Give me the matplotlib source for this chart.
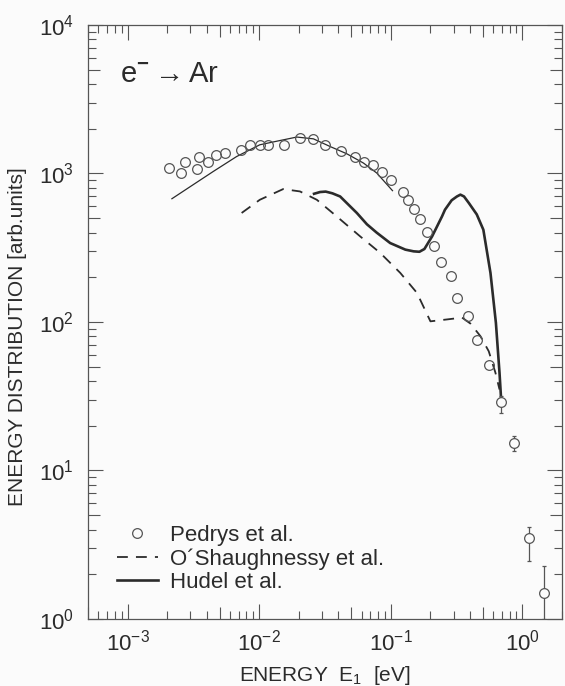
import matplotlib
matplotlib.use("Agg")
import matplotlib.pyplot as plt
from matplotlib.ticker import LogLocator, NullFormatter

plt.rcParams["font.family"] = ["Liberation Sans", "DejaVu Sans"]
plt.rcParams["mathtext.fontset"] = "custom"
plt.rcParams["mathtext.rm"] = "Liberation Sans"
plt.rcParams["mathtext.it"] = "Liberation Sans:italic"
plt.rcParams["mathtext.bf"] = "Liberation Sans:bold"

INK = "#2b2b2b"
GREY = "#555555"

# Pedrys et al. (open circles)
pedrys_e = [2.07e-3, 2.55e-3, 2.71e-3, 3.36e-3, 3.49e-3, 4.09e-3, 4.73e-3,
            5.47e-3, 7.31e-3, 8.51e-3, 1.01e-2, 1.17e-2, 1.55e-2, 2.03e-2,
            2.56e-2, 3.15e-2, 4.21e-2, 5.35e-2, 6.27e-2, 7.34e-2, 8.60e-2,
            0.1007, 0.124, 0.136, 0.149, 0.167, 0.187, 0.212, 0.239, 0.286,
            0.318, 0.385, 0.454, 0.557]
pedrys_n = [1087, 1007, 1194, 1071, 1301, 1194, 1336, 1372, 1443, 1552,
            1552, 1560, 1560, 1720, 1704, 1561, 1406, 1301, 1186, 1139,
            1016, 897, 745, 658, 579, 496, 404, 323, 254, 205, 145, 109,
            75.3, 51.3]

# high-energy points with error bars
err_e = [0.693, 0.859, 1.127, 1.47]
err_n = [29.0, 15.2, 3.51, 1.49]
err_lo = [24.5, 13.5, 2.44, 1.0]
err_hi = [31.6, 17.0, 4.16, 2.28]

# thin curve through the Pedrys data
fit_e = [2.17e-3, 3.14e-3, 4.47e-3, 6.73e-3, 1.01e-2, 1.44e-2, 1.93e-2,
         2.58e-2, 3.45e-2, 4.63e-2, 6.20e-2, 7.83e-2, 0.103]
fit_n = [676, 839, 1031, 1300, 1560, 1667, 1759, 1711, 1520, 1357, 1175,
         1006, 766]

# O'Shaughnessy et al. (dashed)
osh_e = [7.35e-3, 1.01e-2, 1.52e-2, 2.04e-2, 2.74e-2, 3.88e-2, 5.85e-2,
         8.30e-2, 0.118, 0.158, 0.200, 0.267, 0.348, 0.403, 0.480, 0.555,
         0.624, 0.670]
osh_n = [542, 665, 785, 757, 665, 514, 377, 292, 214, 157, 101, 104, 107,
         97.5, 80.2, 63.5, 45.5, 35.1]

# Hudel et al. (thick solid)
hud_e = [0.0261, 0.0290, 0.0320, 0.0360, 0.0412, 0.0463, 0.0552, 0.0658,
         0.0780, 0.0989, 0.129, 0.149, 0.165, 0.180, 0.206, 0.245, 0.258,
         0.290, 0.318, 0.338, 0.360, 0.392, 0.450, 0.505, 0.572, 0.629,
         0.670, 0.693]
hud_n = [730, 750, 755, 735, 700, 632, 542, 455, 400, 340, 307, 299, 297,
         310, 377, 514, 570, 660, 700, 720, 700, 632, 530, 418, 214, 98.6,
         45.5, 27.8]

fig = plt.figure(figsize=(5.65, 6.86), dpi=100, facecolor="#fbfbfb")
rect = [0.1558, 0.0977, 0.8389, 0.8659]
ax = fig.add_axes(rect)
ax.set_facecolor("#fbfbfb")

ax.plot(fit_e, fit_n, color=INK, lw=0.9)
ax.plot(osh_e, osh_n, color=INK, lw=1.3, ls=(0, (6, 4.5)),
        label="O\u00b4Shaughnessy et al.")
ax.plot(hud_e, hud_n, color=INK, lw=1.9, label="Hudel et al.")
ax.plot(pedrys_e, pedrys_n, ls="none", marker="o", ms=7, mfc="none",
        mec=GREY, mew=0.9, label="Pedrys et al.")
yerr = [[n - lo for n, lo in zip(err_n, err_lo)],
        [hi - n for n, hi in zip(err_n, err_hi)]]
ax.errorbar(err_e, err_n, yerr=yerr, fmt="o", ms=7, mfc="#fbfbfb",
            mec=GREY, mew=0.9, ecolor=GREY, elinewidth=0.9, capsize=1.5,
            capthick=0.9, zorder=3)

ax.set_xscale("log")
ax.set_yscale("log")
ax.set_xlim(5e-4, 2.0)
ax.set_ylim(1, 1e4)

for axis in (ax.xaxis, ax.yaxis):
    axis.set_major_locator(LogLocator(base=10, numticks=10))
    axis.set_minor_locator(LogLocator(base=10, subs=[2, 3, 4, 6, 7, 8, 9],
                                      numticks=20))
    axis.set_minor_formatter(NullFormatter())

ax.tick_params(which="both", direction="in", top=True, right=True,
               color=GREY, width=0.8)
ax.tick_params(which="major", length=11, labelsize=16, labelcolor=INK)
ax.tick_params(which="minor", length=5.8)
ax.tick_params(axis="x", which="major", pad=8)
ax.tick_params(axis="y", which="major", pad=10)
for sp in ax.spines.values():
    sp.set_color(GREY)
    sp.set_linewidth(0.9)

# separate overlay for the slightly longer ticks at 5 x 10^n
ax5 = fig.add_axes(rect, frameon=False)
ax5.set_xscale("log")
ax5.set_yscale("log")
ax5.set_xlim(ax.get_xlim())
ax5.set_ylim(ax.get_ylim())
for axis in (ax5.xaxis, ax5.yaxis):
    axis.set_major_locator(LogLocator(base=10, subs=[5], numticks=10))
    axis.set_minor_locator(LogLocator(base=10, subs=[5], numticks=10))
    axis.set_major_formatter(NullFormatter())
    axis.set_minor_formatter(NullFormatter())
ax5.tick_params(which="both", direction="in", top=True, right=True,
                length=8.6, color=GREY, width=0.8)
ax5.patch.set_visible(False)

ax.set_xlabel("ENERGY  E$_1$  [eV]", fontsize=15, color=INK, labelpad=6)
ax.set_ylabel("ENERGY DISTRIBUTION [arb.units]", fontsize=15, color=INK)
ax.yaxis.set_label_coords(-0.129, 0.475)

ax.text(0.0675, 0.904, r"e$^{\mathbf{-}}\rightarrow$Ar",
        transform=ax.transAxes, fontsize=21, color=INK, va="baseline")

handles, labels = ax.get_legend_handles_labels()
order = [2, 0, 1]
ax.legend([handles[i] for i in order], [labels[i] for i in order],
          loc="upper left", bbox_to_anchor=(0.061, 0.158), frameon=False,
          fontsize=16, handlelength=1.85, handletextpad=0.55,
          labelspacing=0.1, borderpad=0, borderaxespad=0, labelcolor=INK)

fig.savefig("out.png", dpi=100, facecolor=fig.get_facecolor())
